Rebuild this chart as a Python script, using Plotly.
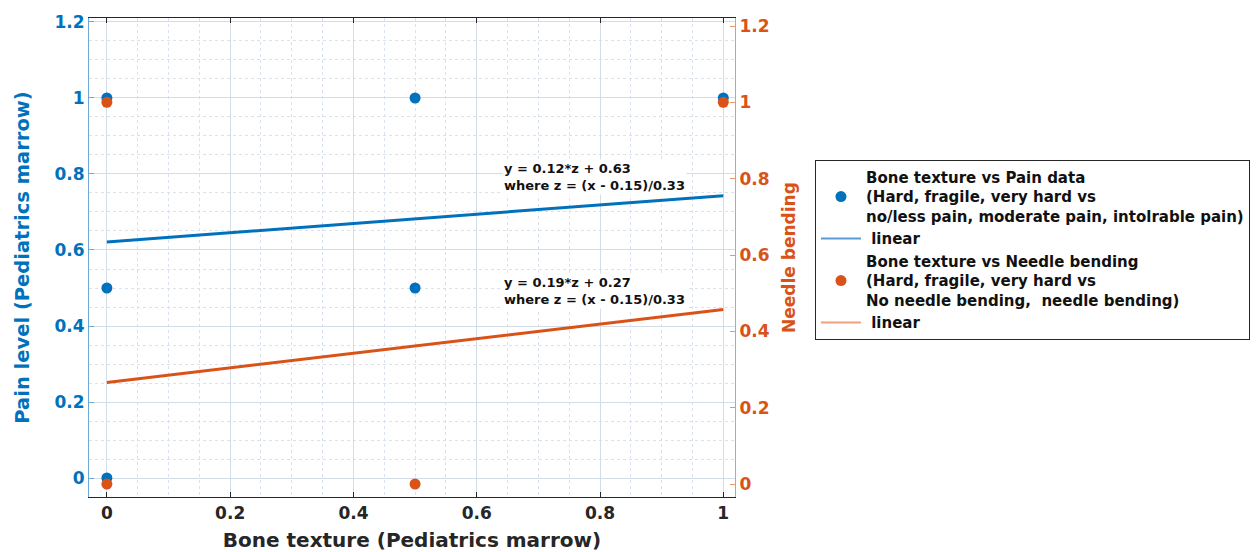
import plotly.graph_objects as go

# Data
pain_x = [0, 0, 0, 0.5, 0.5, 1]
pain_y = [1, 0.5, 0, 1, 0.5, 1]
bend_x = [0, 0, 0.5, 1]
bend_y = [1, 0, 0, 1]
pain_fit_x = [0, 1]
pain_fit_y = [0.621, 0.743]
bend_fit_x = [0, 1]
bend_fit_y = [0.266, 0.457]

pain_label = "Bone texture vs Pain data<br>(Hard, fragile, very hard vs<br>no/less pain, moderate pain, intolrable pain)"
bend_label = "Bone texture vs Needle bending<br>(Hard, fragile, very hard vs<br>No needle bending,  needle bending)"
eq1 = "y = 0.12*z + 0.63<br>where z = (x - 0.15)/0.33"
eq2 = "y = 0.19*z + 0.27<br>where z = (x - 0.15)/0.33"

BLUE = "#0072BD"
ORANGE = "#D95319"
FONT = "DejaVu Sans"

fig = go.Figure()

fig.add_trace(go.Scatter(x=pain_x, y=pain_y, mode="markers",
                         marker=dict(color=BLUE, size=11), name=pain_label,
                         showlegend=False))
fig.add_trace(go.Scatter(x=pain_fit_x, y=pain_fit_y, mode="lines",
                         line=dict(color=BLUE, width=3), showlegend=False))
fig.add_trace(go.Scatter(x=bend_x, y=bend_y, mode="markers", yaxis="y2",
                         marker=dict(color=ORANGE, size=11), showlegend=False))
fig.add_trace(go.Scatter(x=bend_fit_x, y=bend_fit_y, mode="lines", yaxis="y2",
                         line=dict(color=ORANGE, width=3), showlegend=False))

# legend entries
fig.add_trace(go.Scatter(x=[None], y=[None], mode="markers",
                         marker=dict(color=BLUE, size=11), name=pain_label))
fig.add_trace(go.Scatter(x=[None], y=[None], mode="lines",
                         line=dict(color="#5b9bd5", width=2), name=" linear"))
fig.add_trace(go.Scatter(x=[None], y=[None], mode="markers",
                         marker=dict(color=ORANGE, size=11), name=bend_label))
fig.add_trace(go.Scatter(x=[None], y=[None], mode="lines",
                         line=dict(color="#f0a080", width=2), name=" linear"))

grid_major = "#d3dde8"
grid_minor = "#d9e2ec"

# page body has an 8px default margin; figure sized to fill the rest of the window
fig.update_layout(
    width=1250, height=544,
    margin=dict(l=81, r=523, t=10, b=55, autoexpand=False),
    paper_bgcolor="white", plot_bgcolor="white",
    font=dict(family=FONT, weight="bold", color="#262626"),
    xaxis=dict(
        range=[-0.029, 1.019], tickvals=[0, 0.2, 0.4, 0.6, 0.8, 1],
        ticktext=["0", "0.2", "0.4", "0.6", "0.8", "1"],
        ticks="inside", ticklen=5, tickcolor="#262626", automargin=False,
        showline=True, linecolor="#262626", linewidth=1.2, mirror="ticks",
        showgrid=True, gridcolor=grid_major, gridwidth=1,
        minor=dict(dtick=0.05, showgrid=True, gridcolor=grid_minor, griddash="dot"),
        zeroline=False,
        tickfont=dict(size=17, family=FONT, weight="bold", color="#262626"),
        title=dict(text="Bone texture (Pediatrics marrow)", standoff=11,
                   font=dict(size=20, family=FONT, weight="bold", color="#262626")),
    ),
    yaxis=dict(
        range=[-0.05, 1.2105], tickvals=[0, 0.2, 0.4, 0.6, 0.8, 1, 1.2],
        ticktext=["0", "0.2", "0.4", "0.6", "0.8", "1", "1.2"],
        ticks="inside", ticklen=5, tickcolor="#6fa8d6", automargin=False,
        showline=True, linecolor="#6fa8d6", linewidth=1.2,
        showgrid=True, gridcolor=grid_major, gridwidth=1,
        minor=dict(dtick=0.05, showgrid=True, gridcolor=grid_minor, griddash="dot"),
        zeroline=False,
        tickfont=dict(size=17, family=FONT, weight="bold", color=BLUE),
        title=dict(text="Pain level (Pediatrics marrow)", standoff=19,
                   font=dict(size=19.5, family=FONT, weight="bold", color=BLUE)),
    ),
    yaxis2=dict(
        overlaying="y", side="right",
        range=[-0.034, 1.221], tickvals=[0, 0.2, 0.4, 0.6, 0.8, 1, 1.2],
        ticktext=["0", "0.2", "0.4", "0.6", "0.8", "1", "1.2"],
        ticks="inside", ticklen=5, tickcolor="#e8996b", automargin=False,
        showline=True, linecolor="#e8996b", linewidth=1.2,
        showgrid=False, zeroline=False,
        tickfont=dict(size=17, family=FONT, weight="bold", color=ORANGE),
        title=dict(text="Needle bending", standoff=14,
                   font=dict(size=17, family=FONT, weight="bold", color=ORANGE)),
    ),
    legend=dict(
        x=1.1238, y=0.704, xanchor="left", yanchor="top",
        bordercolor="#262626", borderwidth=1, bgcolor="white",
        font=dict(size=15, family=FONT, weight="bold", color="#111111"),
        valign="middle", tracegroupgap=0, itemwidth=40,
    ),
    showlegend=True,
)

fig.add_annotation(x=0.641, y=0.792, xref="x", yref="y", text=eq1,
                   showarrow=False, xanchor="left", yanchor="middle", align="left",
                   bgcolor="white", borderpad=1,
                   font=dict(size=13, family=FONT, weight="bold", color="#111111"))
fig.add_annotation(x=0.641, y=0.492, xref="x", yref="y", text=eq2,
                   showarrow=False, xanchor="left", yanchor="middle", align="left",
                   bgcolor="white", borderpad=1,
                   font=dict(size=13, family=FONT, weight="bold", color="#111111"))

fig.write_html("out.html")
